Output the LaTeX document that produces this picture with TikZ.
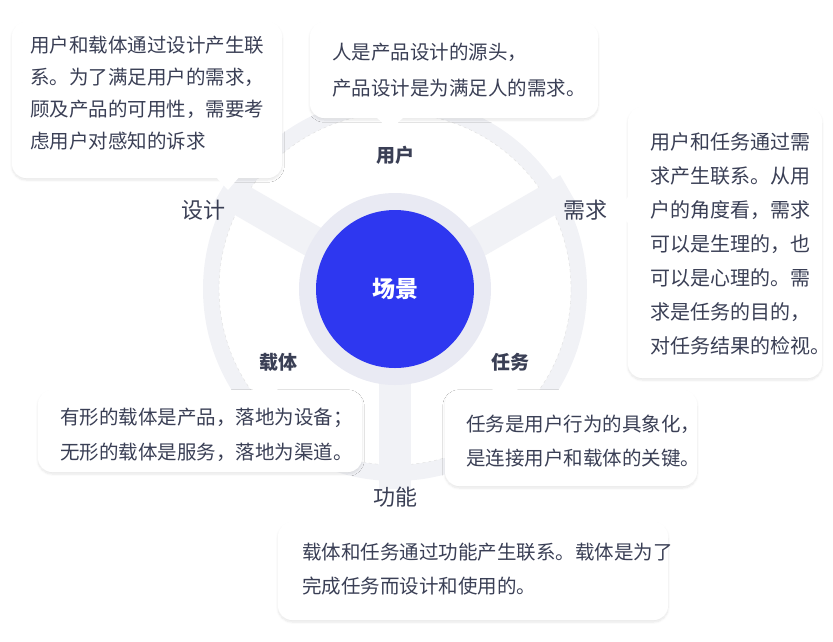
\documentclass[tikz,border=0pt]{standalone}
\usepackage{fontspec}
\setmainfont{Noto Sans CJK SC}
\usetikzlibrary{shadows.blur,calc}
\definecolor{bgray}{HTML}{F1F2F6}
\definecolor{halo}{HTML}{E9EAF3}
\definecolor{core}{HTML}{2E37F0}
\definecolor{ink}{HTML}{3A3F55}
\tikzset{
  note/.style={fill=white,rounded corners=14pt,blur shadow={shadow blur steps=8,shadow xshift=0pt,shadow yshift=-2pt,shadow opacity=10}},
  txt/.style={font=\fontsize{19.5}{32}\selectfont,text=ink,anchor=west,align=left,inner sep=0pt},
  link/.style={font=\fontsize{22}{24}\selectfont,text=ink},
  part/.style={font=\bfseries\fontsize{19}{20}\selectfont,text=ink}
}
\begin{document}
\begin{tikzpicture}[x=1pt,y=-1pt]
\useasboundingbox (0,0) rectangle (833,641);
% ring of three parts
\coordinate (c) at (395,289);
\fill[bgray] (c) circle (192);
\fill[white] (c) circle (176);
\draw[gray!25,dashed] (c) circle (176);
\foreach \a in {150,30,270}
  \draw[bgray,line width=32pt] (c) -- ++(\a:-200);
\fill[halo] (c) circle (96);
\node[circle,fill=core,minimum size=158pt,inner sep=0pt,text=white,font=\bfseries\fontsize{23}{24}\selectfont] (scene) at (c) {场景};
% part and link labels
\node[part] (user) at (395,155) {用户};
\node[part] (carrier) at (278,362) {载体};
\node[part] (task) at (510,362) {任务};
\node[link] (design) at (203,210) {设计};
\node[link] (need) at (585,210) {需求};
\node[link] (func) at (395,497) {功能};
% notes
\path[note] (12,22) rectangle (282,178);
\fill[white] (215,176) -- (240,176) -- (228,190) -- cycle;
\node[txt] (ndesign) at (30,93) {用户和载体通过设计产生联\\系。为了满足用户的需求，\\顾及产品的可用性，需要考\\虑用户对感知的诉求};
\path[note] (310,22) rectangle (598,118);
\fill[white] (375,116) -- (405,116) -- (390,130) -- cycle;
\node[txt,font=\fontsize{19.5}{36}\selectfont] (nuser) at (332,70) {人是产品设计的源头，\\产品设计是为满足人的需求。};
\path[note] (628,107) rectangle (822,378);
\fill[white] (630,195) -- (630,225) -- (616,210) -- cycle;
\node[txt,font=\fontsize{20}{34}\selectfont] (nneed) at (650,244) {用户和任务通过需\\求产生联系。从用\\户的角度看，需求\\可以是生理的，也\\可以是心理的。需\\求是任务的目的，\\对任务结果的检视。};
\path[note] (38,390) rectangle (362,472);
\fill[white] (250,392) -- (280,392) -- (265,378) -- cycle;
\node[txt,font=\fontsize{19.5}{35}\selectfont] (ncarrier) at (60,435) {有形的载体是产品，落地为设备；\\无形的载体是服务，落地为渠道。};
\path[note] (445,390) rectangle (697,486);
\fill[white] (490,392) -- (520,392) -- (505,378) -- cycle;
\node[txt,font=\fontsize{19.5}{34}\selectfont] (ntask) at (466,441) {任务是用户行为的具象化，\\是连接用户和载体的关键。};
\path[note] (278,522) rectangle (668,620);
\fill[white] (385,524) -- (415,524) -- (400,510) -- cycle;
\node[txt,font=\fontsize{19.5}{34}\selectfont] (nfunc) at (302,569) {载体和任务通过功能产生联系。载体是为了\\完成任务而设计和使用的。};
\end{tikzpicture}
\end{document}
